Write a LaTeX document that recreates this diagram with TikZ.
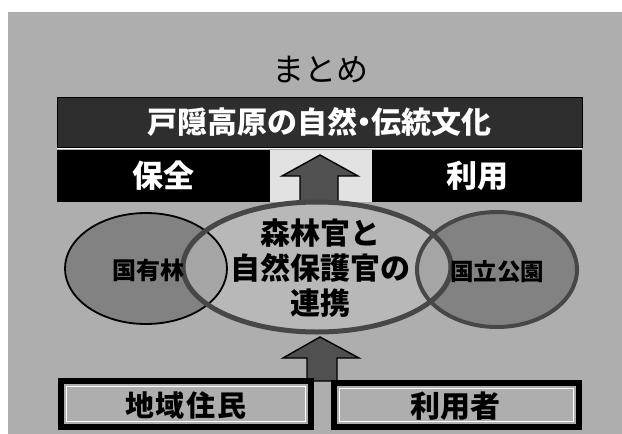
\documentclass[tikz,border=0pt]{standalone}
\usepackage{fontspec}
\newfontfamily\jp{Noto Sans CJK JP}
\definecolor{bg}{HTML}{AEAEAE}
\definecolor{bannerfill}{HTML}{2E2E2E}
\definecolor{smallfill}{HTML}{7E7E7E}
\definecolor{bigfill}{HTML}{C2C2C2}
\definecolor{ringline}{HTML}{474747}
\definecolor{arrowfill}{HTML}{505050}
\definecolor{gapfill}{HTML}{E2E2E2}
\tikzset{
  jptext/.style={font=\jp\bfseries\fontsize{#1}{#1}\selectfont, inner sep=0pt},
  darkbox/.style={fill=black, draw=none, inner sep=0pt, text=white},
  personbox/.style={draw=black, line width=6pt, fill=bg, inner sep=0pt},
  blockarrow/.style={fill=arrowfill, draw=black, line width=1.4pt, line join=miter},
}
\begin{document}
\begin{tikzpicture}[x=1pt,y=-1pt]
\useasboundingbox (0,0) rectangle (622,434);
\fill[white] (0,0) rectangle (622,434);
\fill[bg] (8,12) rectangle (622,434);

% title
\node[font=\jp\fontsize{32}{32}\selectfont, inner sep=0pt] (title) at (320,70) {まとめ};

% banner
\node[darkbox, fill=bannerfill, draw=black, line width=1pt, minimum width=525pt, minimum height=50pt,
      jptext=30] (banner) at (319.5,122) {\textcolor{white}{戸隠高原の自然\kern-8pt・\kern-8pt伝統文化}};

% light gap between the two black boxes
\fill[gapfill] (270,150) rectangle (372,202);
\draw[white, line width=1pt] (57,148.5) -- (582,148.5);

% black boxes
\node[darkbox, minimum width=213pt, minimum height=52pt, jptext=31, text=white] (hozen) at (163.5,176) {保全};
\node[darkbox, minimum width=210pt, minimum height=52pt, jptext=31, text=white] (riyou) at (477,176) {利用};

% upper block arrow
\draw[blockarrow] (320,155) -- (358,176) -- (338,176) -- (338,203) -- (300,203) -- (300,176) -- (282,176) -- cycle;

% ellipses: fills
\fill[smallfill, fill opacity=0.9] (146,268.5) ellipse [x radius=81, y radius=55.5];
\fill[smallfill, fill opacity=0.9] (497,269.5) ellipse [x radius=80, y radius=57.5];
\fill[bigfill, fill opacity=0.55] (317,267) ellipse [x radius=134, y radius=65];
% ellipses: outlines
\draw[black, line width=1.8pt] (146,268.5) ellipse [x radius=81, y radius=55.5];
\draw[ringline, line width=4pt] (497,269.5) ellipse [x radius=80, y radius=57.5];
\draw[ringline, line width=5pt] (317,267) ellipse [x radius=134, y radius=65];

\node[jptext=24] (kokuyurin) at (148,270) {国有林};
\node[jptext=23.5] (kokuritsu) at (497,272) {国立公園};
\node[jptext=30, align=center] (renkei) at (320,268)
  {森林官と\\[5pt]自然保護官の\\[5pt]連携};

% lower block arrow
\draw[blockarrow] (320,337) -- (359,358) -- (337,358) -- (337,381) -- (307,381) -- (307,358) -- (283,358) -- cycle;

% bottom boxes
\draw[personbox] (61,381) rectangle (311,427);
\draw[white, line width=0.8pt] (66.5,386.5) rectangle (305.5,421.5);
\draw[personbox] (334,383) rectangle (579,427);
\draw[white, line width=0.8pt] (339.5,388.5) rectangle (573.5,421.5);
\node[jptext=29] (jumin) at (186,405) {地\hspace{2pt}域\hspace{2pt}住\hspace{2pt}民};
\node[jptext=30] (riyousha) at (455,406) {利用者};
\end{tikzpicture}
\end{document}
